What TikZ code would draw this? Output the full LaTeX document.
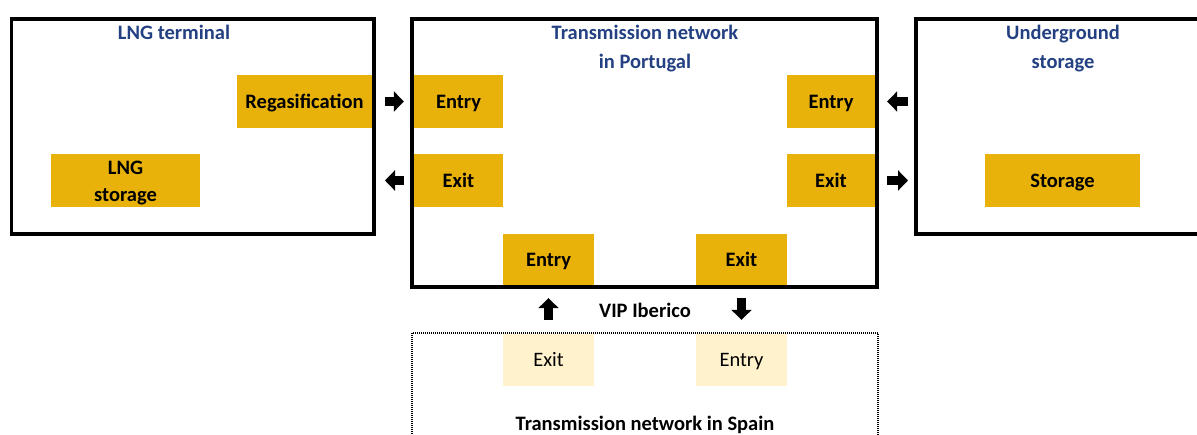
\documentclass[tikz,border=0pt]{standalone}
\usepackage{fontspec}
\setmainfont{Carlito}
\usetikzlibrary{arrows.meta}
\definecolor{gold}{RGB}{232,178,10}
\definecolor{paleGold}{RGB}{255,242,204}
\definecolor{titleBlue}{RGB}{35,64,130}

\begin{document}
\begin{tikzpicture}[x=1pt, y=-1pt,
  frame/.style = {draw, line width=3.5pt, inner sep=0pt},
  port/.style = {fill=gold, inner sep=0pt, minimum width=89pt, minimum height=53pt,
    font=\fontsize{20.5}{27}\selectfont\bfseries, text height=13.3pt, text depth=0pt},
  spainport/.style = {port, fill=paleGold, minimum height=52pt, font=\fontsize{20.5}{27}\selectfont},
  title/.style = {text=titleBlue, font=\fontsize{20.5}{29}\selectfont\bfseries, align=center, anchor=base, inner sep=0pt},
  caption/.style = {font=\fontsize{20.5}{27}\selectfont\bfseries, text height=13.3pt, text depth=0pt, inner sep=0pt},
  flow/.style = {line width=9pt, -{Triangle[length=10pt, width=20pt]}}]
\useasboundingbox (0,0) rectangle (1197,435);
\clip (0,0) rectangle (1197,435);

% the three boxes and the spanish side
\node[frame, minimum width=362.5pt, minimum height=215pt] (term) at (192.75,126.5) {};
\node[frame, minimum width=465pt, minimum height=268pt] (ptnet) at (644.5,153) {};
\node[frame, minimum width=294pt, minimum height=215pt] (ugs) at (1063,126.5) {};
\node[draw, line width=2pt, dash pattern=on 1pt off 1pt, minimum width=466pt, minimum height=170pt, inner sep=0pt] (esnet) at (645,418) {};

% titles (base = last line)
\node[title] (termtitle) at (174,40) {LNG terminal};
\node[title] (pttitle) at (645,68.7) {Transmission network\\in Portugal};
\node[title] (ugstitle) at (1063,68.7) {Underground\\storage};

% LNG terminal
\node[port, minimum width=135pt] (regas) at (304.5,101.5) {Regasification};
\node[fill=gold, inner sep=0pt, minimum width=149pt, minimum height=53pt, align=center,
  font=\fontsize{20.5}{27}\selectfont\bfseries] (lngstore) at (125.5,180.5) {\strut LNG\\storage};

% Portugal
\node[port] (entryL) at (458.5,101.5) {Entry};
\node[port] (exitL) at (458.5,180.5) {Exit};
\node[port, minimum width=88pt] (entryR) at (831,101.5) {Entry};
\node[port, minimum width=88pt] (exitR) at (831,180.5) {Exit};
\node[port, minimum width=91pt, minimum height=51pt] (entryB) at (548.5,259.5) {Entry};
\node[port, minimum width=91pt, minimum height=51pt] (exitB) at (741.5,259.5) {Exit};

% underground storage
\node[port, minimum width=155pt] (storage) at (1062.5,180.5) {Storage};

% Spain
\node[spainport, minimum width=91pt] (esExit) at (548.5,360) {Exit};
\node[spainport, minimum width=91pt] (esEntry) at (741.5,360) {Entry};
\node[caption] (vip) at (645,311) {VIP Iberico};
\node[caption] (estitle) at (645,424) {Transmission network in Spain};

% flows
\draw[flow, shorten <=13pt, shorten >=10pt] (regas.east) -- (entryL.west);
\draw[flow, shorten <=10pt, shorten >=9.25pt] (exitL.west) -- (exitL.west -| term.east);
\draw[flow, shorten <=6.25pt, shorten >=12pt] (entryR.east -| ugs.west) -- (entryR.east);
\draw[flow, shorten <=12pt, shorten >=6.25pt] (exitR.east) -- (exitR.east -| ugs.west);
\draw[flow, shorten <=14pt, shorten >=13pt] (esExit.north) -- (entryB.south);
\draw[flow, shorten <=13pt, shorten >=14pt] (exitB.south) -- (esEntry.north);
\end{tikzpicture}
\end{document}
